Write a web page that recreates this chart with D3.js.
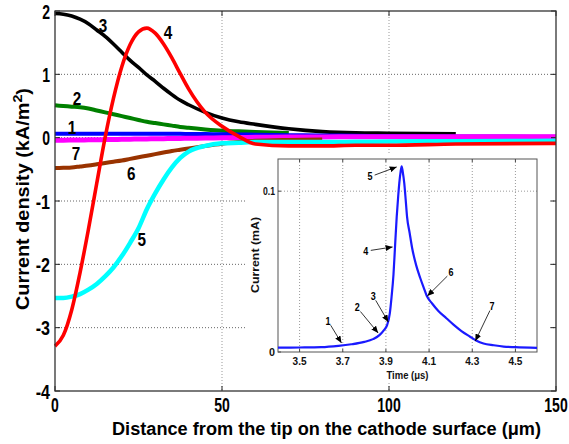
<!DOCTYPE html>
<html><head><meta charset="utf-8">
<script src="https://cdn.jsdelivr.net/npm/d3@7"></script>
<style>
body{margin:0;background:#fff}
svg{display:block}
text{font-family:"Liberation Sans",Arial,Helvetica,sans-serif}
</style>
</head><body>
<svg id="c" width="569" height="444"></svg>
<script>
// ---------- main chart data ----------
const distance = [0,2.5,5,7.5,10,12.5,15,17.5,20,22.5,25,27.5,30,32.5,35,37.5,40,45,50,55,60,70,80,90,100,120,150];
const curve1 = [0.06,0.06,0.06,0.06,0.06,0.06,0.06,0.06,0.06,0.06,0.06,0.06,0.06,0.06,0.06,0.06,0.058,0.056,0.054,0.05,0.047,0.04,0.035,0.03,0.025,0.02,0.015];
const curve2 = [0.51,0.50,0.49,0.48,0.46,0.43,0.40,0.37,0.34,0.31,0.28,0.25,0.23,0.21,0.19,0.17,0.155,0.13,0.11,0.10,0.09,0.075,null,null,null,null,null];
const curve3 = [1.96,1.95,1.92,1.87,1.80,1.70,1.60,1.48,1.35,1.22,1.11,0.99,0.89,0.78,0.68,0.59,0.52,0.40,0.31,0.25,0.21,0.14,0.095,0.075,0.07,0.06,null];
const curve4 = [-3.29,-3.12,-2.72,-2.13,-1.45,-0.72,0.0,0.62,1.12,1.47,1.67,1.73,1.65,1.48,1.26,1.01,0.77,0.40,0.18,0.02,-0.10,-0.13,-0.13,-0.12,-0.12,-0.10,-0.09];
const curve5 = [-2.53,-2.53,-2.51,-2.47,-2.40,-2.31,-2.19,-2.05,-1.87,-1.66,-1.43,-1.13,-0.88,-0.66,-0.47,-0.32,-0.22,-0.13,-0.09,-0.08,-0.07,-0.07,-0.07,-0.065,-0.06,-0.055,-0.05];
const curve6 = [-0.48,-0.475,-0.47,-0.455,-0.44,-0.42,-0.40,-0.38,-0.36,-0.335,-0.31,-0.285,-0.26,-0.235,-0.21,-0.19,-0.17,-0.13,-0.095,-0.07,-0.05,-0.035,-0.03,null,null,null,null];
const curve7 = [-0.04,-0.04,-0.038,-0.036,-0.034,-0.032,-0.03,-0.028,-0.026,-0.024,-0.022,-0.02,-0.018,-0.016,-0.014,-0.012,-0.01,-0.006,-0.002,0.002,0.005,0.01,0.012,0.014,0.015,0.016,0.016];
const curveNames = ["1","2","3","4","5","6","7"];
const curveLabelX = [5.1,6.6,14.4,33.8,26.0,22.8,6.3];
const curveLabelY = [0.16,0.62,1.77,1.66,-1.61,-0.57,-0.25];
const xTicks = [0,50,100,150];
const yTicks = [2,1,0,-1,-2,-3,-4];

// ---------- inset data ----------
const insetTime = [3.40,3.50,3.60,3.68,3.74,3.80,3.84,3.87,3.89,3.905,3.918,3.926,3.935,3.942,3.95,3.957,3.962,3.968,3.973,3.978,3.985,3.992,3.998,4.01,4.021,4.04,4.059,4.075,4.089,4.115,4.143,4.18,4.213,4.25,4.29,4.32,4.352,4.40,4.445,4.50,4.60];
const insetCurrent = [0.0027,0.0028,0.003,0.0038,0.0048,0.0063,0.008,0.0105,0.0135,0.0165,0.024,0.034,0.048,0.065,0.084,0.097,0.105,0.112,0.1155,0.112,0.105,0.094,0.084,0.074,0.065,0.054,0.046,0.040,0.035,0.030,0.0255,0.021,0.017,0.013,0.0095,0.007,0.0053,0.0042,0.0034,0.003,0.0025];
const insetXTicks = [3.5,3.7,3.9,4.1,4.3,4.5];
const insetYTicks = [0,0.1];
const arrowLabels = ["1","2","3","4","5","6","7"];
const arrowLabelT = [3.632,3.767,3.841,3.807,3.826,4.201,4.392];
const arrowLabelV = [0.0193,0.0276,0.0348,0.0627,0.1089,0.0494,0.0286];
const arrowTipT = [3.694,3.864,3.911,3.931,3.950,4.092,4.314];
const arrowTipV = [0.0056,0.0118,0.0187,0.0653,0.1151,0.0348,0.0068];

// ---------- layout ----------
const svg = d3.select("#c");
const M = {l:55, r:556, t:11, b:391};
const x = d3.scaleLinear().domain([0,150]).range([M.l, M.r]);
const y = d3.scaleLinear().domain([-4,2]).range([M.b, M.t]);

function fitText(sel, w){ sel.attr("textLength", w).attr("lengthAdjust","spacingAndGlyphs"); }
function numWidth(s, dw, mw){ let w=0; for(const ch of String(s)){ w += (ch==='-'?mw:(ch==='.'?dw*0.45:dw)); } return w; }

// gridlines
const grid = svg.append("g");
grid.selectAll("line.gy").data(yTicks.filter(v=>v>-4 && v<2)).join("line")
  .attr("x1",M.l).attr("x2",M.r).attr("y1",d=>y(d)).attr("y2",d=>y(d))
  .attr("stroke","#666").attr("stroke-width",1).attr("stroke-dasharray","1,2");
grid.selectAll("line.gx").data(xTicks.filter(v=>v>0 && v<150)).join("line")
  .attr("y1",M.t).attr("y2",M.b).attr("x1",d=>x(d)).attr("x2",d=>x(d))
  .attr("stroke","#999").attr("stroke-width",1).attr("stroke-dasharray","1,2");

// curves
const series = [
  {v:curve2, c:"#008000", w:4},
  {v:curve3, c:"#000000", w:3.6},
  {v:curve1, c:"#0000ff", w:4},
  {v:curve7, c:"#ff00ff", w:5},
  {v:curve6, c:"#993300", w:4},
  {v:curve5, c:"#00ffff", w:4.5},
  {v:curve4, c:"#ff0000", w:3.6}
];
const line = d3.line().defined(d=>d[1]!=null).x(d=>x(d[0])).y(d=>y(d[1])).curve(d3.curveMonotoneX);
const cg = svg.append("g");
series.forEach(s=>{
  cg.append("path").datum(distance.map((d,i)=>[d,s.v[i]]))
    .attr("d",line).attr("fill","none").attr("stroke",s.c).attr("stroke-width",s.w)
    .attr("stroke-linejoin","round");
});

// curve labels
svg.append("g").selectAll("text").data(curveNames).join("text")
  .attr("x",(d,i)=>x(curveLabelX[i])).attr("y",(d,i)=>y(curveLabelY[i]))
  .attr("dy","0.36em").attr("text-anchor","middle")
  .attr("font-size",18).attr("font-weight","bold").text(d=>d)
  .call(fitText, 8.5);

// ---------- inset ----------
const I = {l:278, r:537, t:159, b:352};
svg.append("rect").attr("x",245).attr("y",153).attr("width",305).attr("height",230).attr("fill","#fff");
const ix = d3.scaleLinear().domain([3.4,4.6]).range([I.l, I.r]);
const iy = d3.scaleLinear().domain([0,0.12]).range([I.b, I.t]);
const ig = svg.append("g");
ig.selectAll("line.gx").data(insetXTicks).join("line")
  .attr("x1",d=>ix(d)).attr("x2",d=>ix(d)).attr("y1",I.t).attr("y2",I.b)
  .attr("stroke","#999").attr("stroke-dasharray","1,2");
ig.selectAll("line.gy").data(insetYTicks.filter(v=>v>0)).join("line")
  .attr("x1",I.l).attr("x2",I.r).attr("y1",d=>iy(d)).attr("y2",d=>iy(d))
  .attr("stroke","#999").attr("stroke-dasharray","1,2");
// ticks
ig.selectAll("line.tb").data(insetXTicks).join("line")
  .attr("x1",d=>ix(d)).attr("x2",d=>ix(d)).attr("y1",I.b).attr("y2",I.b-3).attr("stroke","#444");
ig.selectAll("line.tt").data(insetXTicks).join("line")
  .attr("x1",d=>ix(d)).attr("x2",d=>ix(d)).attr("y1",I.t).attr("y2",I.t+3).attr("stroke","#444");
ig.selectAll("line.tl").data(insetYTicks).join("line")
  .attr("x1",I.l).attr("x2",I.l+3).attr("y1",d=>iy(d)).attr("y2",d=>iy(d)).attr("stroke","#444");
ig.append("rect").attr("x",I.l).attr("y",I.t).attr("width",I.r-I.l).attr("height",I.b-I.t)
  .attr("fill","none").attr("stroke","#555").attr("stroke-width",1);
// inset curve
const iline = d3.line().x(d=>ix(d[0])).y(d=>iy(d[1])).curve(d3.curveMonotoneX);
ig.append("path").datum(insetTime.map((t,i)=>[t,insetCurrent[i]]))
  .attr("d",iline).attr("fill","none").attr("stroke","#1a1aff").attr("stroke-width",2.2);
// inset tick labels
ig.selectAll("text.xl").data(insetXTicks).join("text")
  .attr("x",d=>ix(d)).attr("y",I.b+13).attr("text-anchor","middle")
  .attr("font-size",11).attr("font-weight","bold").attr("fill","#111").text(d=>d.toFixed(1))
  .each(function(d){ fitText(d3.select(this), 14); });
ig.selectAll("text.yl").data(insetYTicks).join("text")
  .attr("x",I.l-3).attr("y",d=>iy(d)).attr("dy","0.36em").attr("text-anchor","end")
  .attr("font-size",11).attr("font-weight","bold").attr("fill","#111").text(d=>d===0?"0":String(d))
  .each(function(d){ fitText(d3.select(this), d===0?6:12); });
ig.append("text").attr("x",(I.l+I.r)/2+0).attr("y",379).attr("text-anchor","middle")
  .attr("font-size",11).attr("font-weight","bold").attr("fill","#111").text("Time (μs)").call(fitText,42);
ig.append("text").attr("transform","translate(259,255) rotate(-90)").attr("text-anchor","middle")
  .attr("font-size",11).attr("font-weight","bold").attr("fill","#111").text("Current (mA)").call(fitText,76);
// arrows
svg.append("defs").append("marker").attr("id","ah").attr("markerUnits","userSpaceOnUse")
  .attr("markerWidth",7).attr("markerHeight",6).attr("refX",7).attr("refY",3).attr("orient","auto")
  .append("path").attr("d","M0,0 L7,3 L0,6 Z").attr("fill","#000");
arrowLabels.forEach((lab,i)=>{
  const lx = ix(arrowLabelT[i]), ly = iy(arrowLabelV[i]);
  const tx = ix(arrowTipT[i]), ty = iy(arrowTipV[i]);
  const dx = tx-lx, dy = ty-ly, L = Math.hypot(dx,dy);
  ig.append("line").attr("x1",lx+dx/L*5).attr("y1",ly+dy/L*5).attr("x2",tx).attr("y2",ty)
    .attr("stroke","#000").attr("stroke-width",0.8).attr("marker-end","url(#ah)");
  ig.append("text").attr("x",lx).attr("y",ly).attr("dy","0.36em").attr("text-anchor","middle")
    .attr("font-size",10).attr("font-weight","bold").text(lab).call(fitText,5);
});

// ---------- main frame, ticks and labels ----------
const fg = svg.append("g");
fg.selectAll("line.tl").data(yTicks).join("line")
  .attr("x1",M.l).attr("x2",M.l+5).attr("y1",d=>y(d)).attr("y2",d=>y(d)).attr("stroke","#222");
fg.selectAll("line.tr").data(yTicks).join("line")
  .attr("x1",M.r).attr("x2",M.r-5).attr("y1",d=>y(d)).attr("y2",d=>y(d)).attr("stroke","#222");
fg.selectAll("line.tb").data(xTicks).join("line")
  .attr("x1",d=>x(d)).attr("x2",d=>x(d)).attr("y1",M.b).attr("y2",M.b-5).attr("stroke","#222");
fg.selectAll("line.tt").data(xTicks).join("line")
  .attr("x1",d=>x(d)).attr("x2",d=>x(d)).attr("y1",M.t).attr("y2",M.t+5).attr("stroke","#222");
fg.append("rect").attr("x",M.l).attr("y",M.t).attr("width",M.r-M.l).attr("height",M.b-M.t)
  .attr("fill","none").attr("stroke","#333").attr("stroke-width",1.3);

fg.selectAll("text.yl").data(yTicks).join("text")
  .attr("x",M.l-5).attr("y",d=>y(d)).attr("dy","0.36em").attr("text-anchor","end")
  .attr("font-size",21).attr("font-weight","bold").text(d=>String(d))
  .each(function(d){ fitText(d3.select(this), numWidth(d,7.8,6.5)); });
fg.selectAll("text.xl").data(xTicks).join("text")
  .attr("x",d=>x(d)).attr("y",M.b+21).attr("text-anchor","middle")
  .attr("font-size",21).attr("font-weight","bold").text(d=>String(d))
  .each(function(d){ fitText(d3.select(this), numWidth(d,7.8,6.5)); });

fg.append("text").attr("x",326.5).attr("y",435).attr("text-anchor","middle")
  .attr("font-size",18).attr("font-weight","bold").text("Distance from the tip on the cathode surface (μm)")
  .call(fitText,429);
const yt = fg.append("text").attr("transform","translate(29,199) rotate(-90)").attr("text-anchor","middle")
  .attr("font-size",18).attr("font-weight","bold");
yt.append("tspan").text("Current density (kA/m");
yt.append("tspan").attr("dy",-7).attr("font-size",13).text("2");
yt.append("tspan").attr("dy",7).text(")");
yt.attr("textLength",222).attr("lengthAdjust","spacingAndGlyphs");
</script>
</body></html>
